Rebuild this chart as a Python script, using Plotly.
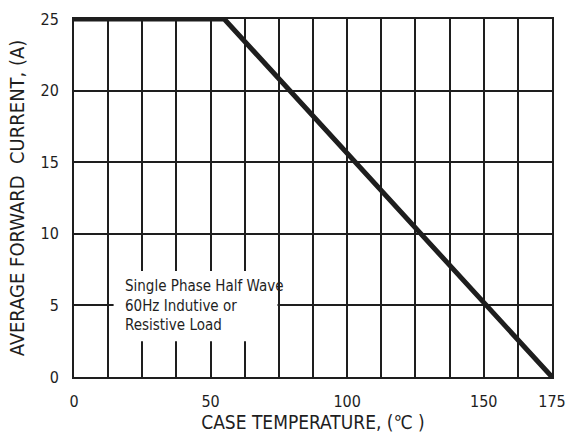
import plotly.graph_objects as go

# Data
temp_c = [0, 55, 175]
current_a = [25, 25, 0]
x_tick_vals = [0, 50, 100, 150, 175]
x_tick_text = ["0", "50", "100", "150", "175"]
y_tick_vals = [0, 5, 10, 15, 20, 25]
note_lines = ["Single Phase Half Wave", "60Hz Indutive or", "Resistive Load"]

FONT = "DejaVu Sans Condensed, Liberation Sans Narrow, Arial Narrow, sans-serif"
INK = "#1e1e1e"

fig = go.Figure()
fig.add_trace(go.Scatter(
    x=temp_c, y=current_a, mode="lines",
    line=dict(color=INK, width=5),
    hoverinfo="skip", showlegend=False,
))

fig.add_shape(type="rect", xref="x", yref="y",
              x0=14.5, x1=74.5, y0=2.5, y1=7.4,
              fillcolor="white", line=dict(width=0), layer="above")
fig.add_annotation(
    x=18, y=5, xref="x", yref="y", xanchor="left", yanchor="middle",
    text="<br>".join(note_lines), align="left", showarrow=False,
    font=dict(family=FONT, size=15, color=INK),
)

fig.update_layout(
    width=569, height=433,
    margin=dict(l=74, r=17, t=19, b=56),
    paper_bgcolor="white", plot_bgcolor="white",
    font=dict(family=FONT, size=16, color=INK),
    xaxis=dict(
        range=[0, 175], tickvals=x_tick_vals, ticktext=x_tick_text,
        showgrid=True, gridcolor=INK, gridwidth=2,
        minor=dict(tick0=0, dtick=12.5, showgrid=True, gridcolor=INK, gridwidth=2),
        showline=True, linecolor=INK, linewidth=2, mirror=True,
        zeroline=False, ticks="", ticklabelstandoff=9, automargin=False,
        title=dict(text="CASE TEMPERATURE, (℃ )", standoff=6,
                   font=dict(family=FONT, size=19, color=INK)),
    ),
    yaxis=dict(
        range=[0, 25], tickvals=y_tick_vals,
        showgrid=True, gridcolor=INK, gridwidth=2,
        showline=True, linecolor=INK, linewidth=2, mirror=True,
        zeroline=False, ticks="", ticklabelstandoff=10, automargin=False,
        title=dict(text="AVERAGE FORWARD  CURRENT, (A)", standoff=10,
                   font=dict(family=FONT, size=20, color=INK)),
    ),
)

# remove the page's default body margin so the figure fills the window exactly
fig.write_html("out.html",
               config={"displayModeBar": False},
               post_script="document.body.style.margin='0px';document.body.style.overflow='hidden';")
